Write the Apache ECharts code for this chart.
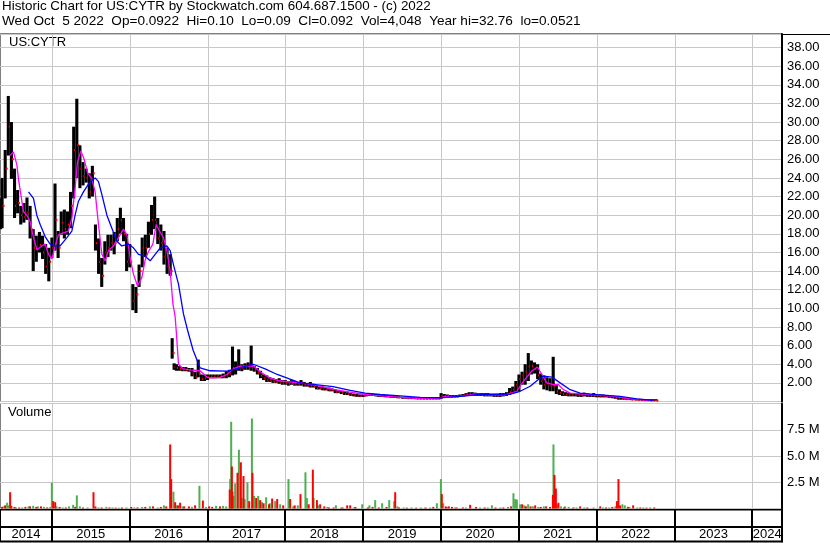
<!DOCTYPE html>
<html><head><meta charset="utf-8">
<script src="https://cdn.jsdelivr.net/npm/echarts@6/dist/echarts.min.js"></script>
<style>html,body{margin:0;padding:0;background:#fff}#c{width:830px;height:543px}</style>
</head><body><div id="c"></div>
<script>
const titleLine1 = 'Historic Chart for US:CYTR by Stockwatch.com 604.687.1500 - (c) 2022';
const titleLine2 = 'Wed Oct  5 2022  Op=0.0922  Hi=0.10  Lo=0.09  Cl=0.092  Vol=4,048  Year hi=32.76  lo=0.0521';
const symbolLabel = 'US:CYTR';
const volumeLabel = 'Volume';
const yearStarts = [2014, 2015, 2016, 2017, 2018, 2019, 2020, 2021, 2022, 2023, 2024];
const yearLabels = ['2014', '2015', '2016', '2017', '2018', '2019', '2020', '2021', '2022', '2023', '2024'];

// price bars: [decimal year, low, high, close]
const bars2014 = [
[2014.34,18.5,21.8,19.5],[2014.36,18.6,24.0,21.0],[2014.40,21.8,27.0,25.0],[2014.44,26.4,32.8,29.5],
[2014.48,23.9,30.0,26.0],[2014.52,19.7,25.0,21.0],[2014.56,20.2,22.7,21.3],[2014.60,19.0,21.0,20.0],
[2014.64,19.2,21.3,19.8],[2014.68,19.5,21.9,20.3],[2014.72,17.5,21.0,18.5],[2014.76,14.0,18.5,16.5],
[2014.80,15.0,17.8,16.3],[2014.84,16.0,18.2,16.8],[2014.88,15.3,17.8,16.0],[2014.92,13.7,16.9,14.5],
[2014.96,12.9,16.5,15.0]
];
const bars2015 = [
[2015.00,15.4,17.6,16.5],[2015.04,16.2,23.4,19.5],[2015.08,15.4,18.3,16.5],[2015.12,17.9,20.4,19.2],
[2015.16,17.5,20.6,18.5],[2015.20,17.9,20.4,19.0],[2015.24,18.6,22.5,21.0],[2015.28,21.8,29.5,27.0],
[2015.32,24.0,32.5,27.5],[2015.36,22.9,27.5,25.0],[2015.40,23.2,25.7,24.2],[2015.44,23.5,25.0,24.0],
[2015.48,21.8,24.5,22.5],[2015.52,22.0,25.3,24.5],[2015.56,16.2,19.0,17.0],[2015.60,13.7,17.5,15.0],
[2015.64,12.3,15.4,13.5],[2015.68,14.7,17.2,16.0],[2015.72,15.5,17.9,16.5],[2015.76,16.2,17.9,17.0],
[2015.80,15.8,18.2,17.0],[2015.84,17.2,19.7,18.5],[2015.88,18.0,20.8,19.5],[2015.92,17.2,19.7,18.0],
[2015.96,14.0,18.0,15.0]
];
const bars2016 = [
[2016.00,14.4,16.9,15.0],[2016.04,9.8,12.6,10.8],[2016.08,9.5,12.3,11.5],[2016.12,12.3,14.7,14.0],
[2016.16,14.4,17.6,16.5],[2016.20,15.5,17.9,16.5],[2016.24,16.5,19.3,18.0],[2016.28,17.9,21.1,19.5],
[2016.32,18.5,22.0,19.5],[2016.36,16.9,19.7,17.5],[2016.40,16.2,19.0,17.0],[2016.44,14.7,18.3,15.5],
[2016.48,13.7,16.5,14.5],[2016.52,13.5,15.8,14.0],[2016.545,4.6,6.8,5.2],[2016.57,3.4,4.1,3.7],
[2016.60,3.3,4.0,3.6],[2016.64,3.3,3.8,3.5],[2016.68,3.25,3.7,3.4],[2016.72,3.25,3.7,3.4],
[2016.76,3.2,3.6,3.3],[2016.80,2.7,3.6,3.0],[2016.84,2.4,3.2,2.6],[2016.88,2.6,4.5,3.0],
[2016.92,2.2,2.9,2.4],[2016.96,2.2,2.9,2.5]
];
const bars2017 = [
[2017.00,2.3,2.9,2.6],[2017.04,2.5,2.9,2.7],[2017.08,2.5,2.9,2.7],[2017.12,2.5,2.9,2.7],
[2017.16,2.5,2.9,2.6],[2017.20,2.5,3.0,2.7],[2017.24,2.5,3.25,2.9],[2017.28,2.6,3.4,3.0],
[2017.32,2.8,5.9,3.6],[2017.36,2.9,4.3,3.5],[2017.40,3.3,5.6,3.6],[2017.44,3.25,4.0,3.6],
[2017.48,3.4,4.1,3.8],[2017.52,3.4,4.2,3.9],[2017.56,3.3,6.0,3.8],[2017.60,3.2,3.8,3.4],
[2017.64,2.9,3.6,3.1],[2017.68,2.5,3.3,2.8],[2017.72,2.3,2.9,2.5],[2017.76,2.1,2.8,2.3],
[2017.80,2.1,2.6,2.3],[2017.84,2.0,2.5,2.2],[2017.88,2.0,2.4,2.1],[2017.92,1.9,2.5,2.1],
[2017.96,1.8,2.3,2.0]
];
const bars2018 = [
[2018.00,1.8,2.3,2.0],[2018.04,1.7,2.2,1.9],[2018.08,1.8,2.3,2.0],[2018.12,1.7,2.2,1.9],
[2018.16,1.7,2.1,1.9],[2018.20,1.7,2.3,2.0],[2018.24,1.6,2.1,1.8],[2018.28,1.6,2.0,1.7],
[2018.32,1.5,2.1,1.7],[2018.36,1.5,1.9,1.6],[2018.40,1.3,1.7,1.4],[2018.44,1.3,1.6,1.4],
[2018.48,1.2,1.6,1.3],[2018.52,1.2,1.5,1.3],[2018.56,1.1,1.5,1.2],[2018.60,1.1,1.4,1.2],
[2018.64,0.9,1.3,1.0],[2018.68,0.9,1.2,1.0],[2018.72,0.8,1.1,0.9],[2018.76,0.7,1.1,0.8],
[2018.80,0.7,1.0,0.8],[2018.84,0.6,0.9,0.7],[2018.88,0.55,0.85,0.65],[2018.92,0.5,0.8,0.6],
[2018.96,0.5,0.75,0.6]
];
const bars2019 = [
[2019.00,0.5,0.8,0.65],[2019.04,0.55,0.85,0.7],[2019.08,0.6,0.9,0.75],[2019.12,0.6,0.85,0.7],
[2019.16,0.55,0.8,0.65],[2019.20,0.5,0.75,0.6],[2019.24,0.5,0.7,0.6],[2019.28,0.45,0.7,0.55],
[2019.32,0.45,0.65,0.55],[2019.36,0.4,0.7,0.5],[2019.40,0.4,0.65,0.5],[2019.44,0.35,0.55,0.45],
[2019.48,0.35,0.5,0.4],[2019.52,0.3,0.5,0.4],[2019.56,0.3,0.45,0.35],[2019.60,0.3,0.45,0.35],
[2019.64,0.3,0.45,0.35],[2019.68,0.25,0.4,0.3],[2019.72,0.25,0.4,0.3],[2019.76,0.25,0.4,0.3],
[2019.80,0.25,0.35,0.3],[2019.84,0.25,0.35,0.3],[2019.88,0.25,0.35,0.3],[2019.92,0.25,0.35,0.3],
[2019.96,0.25,0.35,0.3]
];
const bars2020 = [
[2020.00,0.3,0.9,0.6],[2020.04,0.5,0.8,0.6],[2020.08,0.5,0.75,0.6],[2020.12,0.45,0.7,0.55],
[2020.16,0.45,0.7,0.55],[2020.20,0.45,0.7,0.55],[2020.24,0.5,0.75,0.6],[2020.28,0.55,0.8,0.65],
[2020.32,0.6,0.9,0.75],[2020.36,0.65,1.0,0.8],[2020.40,0.65,1.0,0.8],[2020.44,0.6,0.95,0.75],
[2020.48,0.6,0.9,0.75],[2020.52,0.6,0.9,0.7],[2020.56,0.55,0.9,0.7],[2020.60,0.55,0.9,0.7],
[2020.64,0.55,0.85,0.7],[2020.68,0.5,0.85,0.65],[2020.72,0.5,0.85,0.65],[2020.76,0.5,0.9,0.7],
[2020.80,0.55,0.9,0.7],[2020.84,0.6,1.0,0.8],[2020.88,0.7,1.45,1.0],[2020.92,0.8,1.6,1.3],
[2020.96,1.0,2.2,1.8]
];
const bars2021 = [
[2021.00,1.1,2.9,2.4],[2021.04,1.8,3.2,2.8],[2021.08,1.8,4.0,3.2],[2021.12,2.2,5.2,3.8],
[2021.16,2.9,4.4,3.8],[2021.20,3.0,4.2,3.5],[2021.24,2.4,4.0,2.8],[2021.28,1.8,3.0,2.2],
[2021.32,1.3,2.8,1.8],[2021.36,1.2,2.6,1.9],[2021.40,1.1,2.5,1.7],[2021.44,1.1,4.8,1.6],
[2021.48,0.8,1.8,1.1],[2021.52,0.7,1.3,0.9],[2021.56,0.6,1.1,0.8],[2021.60,0.6,1.0,0.75],
[2021.64,0.55,0.95,0.7],[2021.68,0.55,0.9,0.7],[2021.72,0.55,0.9,0.7],[2021.76,0.5,0.85,0.65],
[2021.80,0.5,0.85,0.65],[2021.84,0.55,0.95,0.7],[2021.88,0.5,0.85,0.65],[2021.92,0.5,0.8,0.6],
[2021.96,0.5,0.9,0.65]
];
const bars2022 = [
[2022.00,0.45,0.8,0.6],[2022.04,0.45,0.75,0.55],[2022.08,0.45,0.75,0.55],[2022.12,0.45,0.7,0.55],
[2022.16,0.4,0.65,0.5],[2022.20,0.35,0.6,0.45],[2022.24,0.3,0.55,0.4],[2022.28,0.2,0.5,0.3],
[2022.32,0.2,0.4,0.3],[2022.36,0.2,0.35,0.25],[2022.40,0.2,0.35,0.25],[2022.44,0.15,0.3,0.2],
[2022.48,0.15,0.3,0.2],[2022.52,0.12,0.25,0.18],[2022.56,0.12,0.22,0.15],[2022.60,0.1,0.2,0.14],
[2022.64,0.1,0.18,0.13],[2022.68,0.09,0.15,0.11],[2022.72,0.09,0.12,0.1],[2022.76,0.09,0.10,0.092]
];

// moving averages: [decimal year, value]
const maFast = [
[2014.464,26.4],[2014.507,26.8],[2014.551,25.4],[2014.571,23.9],[2014.602,22.2],[2014.635,20.4],
[2014.679,20.0],[2014.721,19.3],[2014.764,17.6],[2014.807,16.3],[2014.872,16.7],[2014.914,16.9],
[2014.957,15.8],[2015.000,15.3],[2015.043,16.7],[2015.085,17.9],[2015.149,18.1],[2015.213,18.3],
[2015.257,19.7],[2015.299,22.9],[2015.329,25.7],[2015.373,26.9],[2015.415,26.0],[2015.458,24.6],
[2015.514,23.9],[2015.556,22.5],[2015.599,19.0],[2015.643,15.8],[2015.685,15.1],[2015.727,16.2],
[2015.792,16.7],[2015.856,17.6],[2015.920,18.5],[2015.964,17.9],[2016.006,15.4],[2016.048,13.7],
[2016.100,12.4],[2016.156,13.3],[2016.199,15.2],[2016.241,16.1],[2016.298,16.9],[2016.340,19.0],
[2016.383,18.3],[2016.434,17.6],[2016.478,16.2],[2016.520,14.0],[2016.555,10.5],[2016.584,9.1],
[2016.597,7.7],[2016.627,4.0],[2016.687,3.5],[2016.777,3.4],[2016.905,3.3],[2016.995,2.6],
[2017.072,2.55],[2017.162,2.6],[2017.252,2.9],[2017.329,3.5],[2017.419,3.8],[2017.509,3.8],
[2017.586,3.8],[2017.676,3.2],[2017.805,2.5],[2017.933,2.2],[2018.190,2.0],[2018.357,1.8],
[2018.614,1.3],[2018.833,1.0],[2019.025,0.75],[2019.218,0.62],[2019.475,0.45],[2019.732,0.32],
[2019.963,0.3],[2020.053,0.55],[2020.246,0.58],[2020.438,0.78],[2020.631,0.72],[2020.824,0.72],
[2020.974,1.1],[2021.059,2.18],[2021.167,3.27],[2021.239,3.7],[2021.295,2.9],[2021.359,2.0],
[2021.444,1.8],[2021.508,1.8],[2021.573,1.27],[2021.659,0.9],[2021.916,0.73],[2022.215,0.55],
[2022.430,0.29],[2022.729,0.1]
];
const maSlow = [
[2014.700,22.5],[2014.764,21.8],[2014.807,20.0],[2014.850,19.0],[2014.914,17.7],[2014.978,16.9],
[2015.043,16.7],[2015.107,16.7],[2015.193,17.6],[2015.257,18.3],[2015.299,20.0],[2015.342,21.5],
[2015.406,22.5],[2015.492,23.6],[2015.556,24.0],[2015.599,23.6],[2015.643,22.2],[2015.707,20.0],
[2015.771,18.6],[2015.835,17.2],[2015.899,16.7],[2015.984,16.9],[2016.048,16.5],[2016.113,15.8],
[2016.199,15.6],[2016.263,15.1],[2016.327,15.8],[2016.392,16.5],[2016.478,16.7],[2016.520,16.2],
[2016.562,14.7],[2016.627,12.6],[2016.691,9.4],[2016.742,7.7],[2016.815,5.5],[2016.905,3.6],
[2017.034,3.3],[2017.252,3.25],[2017.419,3.6],[2017.586,4.0],[2017.740,3.5],[2017.895,2.9],
[2018.190,2.0],[2018.614,1.6],[2018.833,1.2],[2019.025,0.9],[2019.218,0.75],[2019.475,0.6],
[2019.732,0.45],[2019.989,0.4],[2020.246,0.55],[2020.503,0.75],[2020.888,0.8],[2021.016,1.1],
[2021.145,1.64],[2021.251,2.36],[2021.316,2.73],[2021.424,2.62],[2021.530,2.0],[2021.659,1.27],
[2021.787,0.9],[2022.002,0.73],[2022.301,0.55],[2022.516,0.29],[2022.729,0.11]
];

// volume in millions: [decimal year, volume]
const volUp = [
[2014.38,0.2],[2014.426,0.55],[2014.44,0.3],[2014.54,0.1],[2014.62,0.1],[2014.70,0.2],[2014.76,0.25],[2014.82,0.2],[2014.90,0.15],[2014.98,0.15],
[2015.000,2.47],[2015.06,0.2],[2015.14,0.1],[2015.22,0.2],[2015.274,0.35],[2015.321,1.25],[2015.36,0.2],[2015.46,0.1],[2015.60,0.1],[2015.70,0.15],[2015.78,0.1],[2015.86,0.08],[2015.96,0.1],
[2016.06,0.1],[2016.16,0.15],[2016.26,0.2],[2016.36,0.1],[2016.44,0.3],[2016.562,1.6],[2016.60,0.3],[2016.68,0.2],[2016.80,0.15],[2016.896,2.16],[2016.98,0.15],
[2017.11,0.25],[2017.20,0.25],[2017.24,0.2],[2017.291,2.8],[2017.304,8.26],[2017.34,1.2],[2017.355,2.4],[2017.403,5.6],[2017.44,1.0],[2017.477,0.9],[2017.513,2.5],[2017.570,8.57],[2017.599,1.2],[2017.651,1.2],[2017.70,0.6],[2017.753,1.07],[2017.80,0.5],[2017.869,0.7],[2017.933,0.4],
[2018.040,2.8],[2018.10,0.2],[2018.16,0.3],[2018.258,3.45],[2018.276,1.0],[2018.363,1.0],[2018.42,0.3],[2018.54,0.15],[2018.649,0.3],[2018.74,0.1],[2018.88,0.1],[2018.987,0.4],
[2019.08,0.3],[2019.154,0.8],[2019.243,0.5],[2019.334,0.8],[2019.398,0.7],[2019.44,0.2],[2019.52,0.1],[2019.62,0.1],[2019.74,0.1],[2019.86,0.1],[2019.946,0.5],
[2019.998,2.8],[2020.027,0.5],[2020.08,0.15],[2020.18,0.1],[2020.32,0.1],[2020.50,0.1],[2020.60,0.1],[2020.653,0.3],[2020.76,0.1],[2020.86,0.15],[2020.930,1.46],[2020.952,0.9],[2020.974,0.85],
[2021.016,0.4],[2021.07,0.3],[2021.119,0.4],[2021.18,0.2],[2021.25,0.15],[2021.32,0.2],[2021.444,6.1],[2021.49,0.4],[2021.54,0.2],[2021.594,0.2],[2021.64,0.15],[2021.74,0.1],[2021.84,0.1],[2021.96,0.1],
[2022.08,0.1],[2022.16,0.1],[2022.24,0.2],[2022.33,0.4],[2022.361,0.3],[2022.42,0.15],[2022.52,0.1],[2022.60,0.1],[2022.686,0.1]
];
const volDown = [
[2014.36,0.15],[2014.40,0.3],[2014.464,1.55],[2014.48,0.25],[2014.52,0.15],[2014.58,0.1],[2014.66,0.15],[2014.72,0.2],[2014.80,0.15],[2014.86,0.2],[2014.94,0.1],
[2015.017,0.7],[2015.043,0.6],[2015.10,0.15],[2015.18,0.1],[2015.30,0.15],[2015.40,0.1],[2015.535,1.55],[2015.56,0.2],[2015.64,0.1],[2015.74,0.1],[2015.82,0.08],[2015.90,0.1],
[2016.02,0.15],[2016.10,0.1],[2016.20,0.15],[2016.30,0.2],[2016.40,0.15],[2016.47,0.2],[2016.52,6.1],[2016.533,2.8],[2016.584,0.6],[2016.62,0.3],[2016.648,0.55],[2016.70,0.2],[2016.76,0.2],[2016.84,0.3],[2016.94,0.76],
[2017.02,0.2],[2017.06,0.15],[2017.16,0.2],[2017.285,1.8],[2017.313,4.0],[2017.32,1.6],[2017.385,3.4],[2017.428,4.4],[2017.462,3.1],[2017.535,0.7],[2017.577,3.4],[2017.625,1.0],[2017.676,0.8],[2017.72,0.5],[2017.79,0.4],[2017.83,0.95],[2017.895,0.9],[2017.972,0.3],
[2018.061,0.9],[2018.12,0.3],[2018.194,1.37],[2018.30,0.4],[2018.353,3.7],[2018.405,0.8],[2018.447,0.4],[2018.50,0.2],[2018.56,0.1],[2018.62,0.1],[2018.72,0.1],[2018.794,0.3],[2018.833,0.3],[2018.90,0.15],
[2019.06,0.1],[2019.12,0.15],[2019.20,0.1],[2019.30,0.15],[2019.411,1.55],[2019.46,0.1],[2019.56,0.08],[2019.68,0.08],[2019.80,0.1],[2019.90,0.15],
[2020.010,1.37],[2020.06,0.2],[2020.10,0.2],[2020.14,0.15],[2020.20,0.1],[2020.28,0.1],[2020.374,0.35],[2020.45,0.15],[2020.56,0.1],[2020.70,0.1],[2020.80,0.1],[2020.90,0.2],
[2021.042,0.4],[2021.09,0.2],[2021.15,0.2],[2021.209,0.3],[2021.28,0.15],[2021.35,0.2],[2021.40,0.15],[2021.437,1.3],[2021.457,3.2],[2021.475,1.9],[2021.508,0.55],[2021.58,0.1],[2021.70,0.1],[2021.787,0.2],[2021.88,0.1],
[2022.045,0.2],[2022.12,0.1],[2022.20,0.15],[2022.259,0.7],[2022.279,2.8],[2022.30,0.3],[2022.40,0.15],[2022.468,0.3],[2022.56,0.1],[2022.64,0.08],[2022.74,0.1]
];

const priceBars = [].concat(bars2014, bars2015, bars2016, bars2017, bars2018, bars2019, bars2020, bars2021, bars2022);

const FAMILY = '"Liberation Sans", Arial, sans-serif';
const FONT = '13px ' + FAMILY;
const X_MIN = 2014.334, X_MAX = 2024.38;
const GRID_LEFT = 0, GRID_RIGHT = 48;

function xAxisFor(gridIndex) {
  return {
    type: 'value', gridIndex: gridIndex, min: X_MIN, max: X_MAX,
    axisLine: { show: false }, axisTick: { show: false }, axisLabel: { show: false }, splitLine: { show: false }
  };
}

function yearLineRenderer(color, width) {
  return function (params, api) {
    const cs = params.coordSys;
    const p = api.coord([api.value(0), 0]);
    if (p[0] <= cs.x + 1 || p[0] >= cs.x + cs.width - 1) return null;
    const x = width % 2 ? Math.round(p[0]) + 0.5 : Math.round(p[0]);
    return { type: 'line', shape: { x1: x, y1: cs.y, x2: x, y2: cs.y + cs.height }, style: { stroke: color, lineWidth: width } };
  };
}
function renderPriceBar(params, api) {
  const t = api.value(0);
  const pLo = api.coord([t, api.value(1)]);
  const pHi = api.coord([t, api.value(2)]);
  const pCl = api.coord([t, api.value(3)]);
  const top = Math.min(pHi[1], pLo[1] - 1.5);
  return { type: 'group', children: [
    { type: 'rect', shape: { x: pLo[0] - 1.5, y: top, width: 3.1, height: pLo[1] - top }, style: { fill: '#000' } },
    { type: 'rect', shape: { x: pCl[0] + 0.5, y: pCl[1] - 1, width: 2, height: 2 }, style: { fill: '#ff0000' } }
  ]};
}
function volRenderer(color) {
  return function (params, api) {
    const p = api.coord([api.value(0), api.value(1)]);
    const b = api.coord([api.value(0), 0]);
    return { type: 'rect', shape: { x: p[0] - 1, y: p[1], width: 2, height: b[1] - p[1] }, style: { fill: color } };
  };
}
function renderYearLabel(params, api) {
  const y0 = api.value(0);
  const cs = params.coordSys;
  const a = api.coord([y0, 0.5]);
  const b = api.coord([y0 + 1, 0.5]);
  const l = Math.max(a[0], cs.x);
  const r = Math.min(b[0], cs.x + cs.width);
  return { type: 'text', x: (l + r) / 2, y: a[1] + 0.5,
    style: { text: yearLabels[params.dataIndex], align: 'center', verticalAlign: 'middle', font: FONT, fill: '#000' } };
}
const yearData = yearStarts.map(y => [y, 0.5]);

const chart = echarts.init(document.getElementById('c'), null, { renderer: 'canvas' });
chart.setOption({
  animation: false,
  backgroundColor: '#fff',
  grid: [
    { left: GRID_LEFT, right: GRID_RIGHT, top: 34, height: 367.5, show: true, borderColor: '#000', borderWidth: 1, backgroundColor: 'transparent' },
    { left: GRID_LEFT, right: GRID_RIGHT, top: 403.5, height: 105, show: true, borderColor: '#000', borderWidth: 1, backgroundColor: 'transparent' },
    { left: GRID_LEFT, right: GRID_RIGHT, top: 509.5, height: 17.5, show: true, borderColor: '#000', borderWidth: 2, backgroundColor: 'transparent' },
    { left: GRID_LEFT, right: GRID_RIGHT, top: 527, height: 14.5, show: true, borderColor: '#000', borderWidth: 2, backgroundColor: 'transparent' }
  ],
  xAxis: [ xAxisFor(0), xAxisFor(1), xAxisFor(2), xAxisFor(3) ],
  yAxis: [
    { type: 'value', gridIndex: 0, position: 'right', min: 0, max: 39.45, interval: 2,
      axisLine: { show: true, lineStyle: { color: '#000', width: 2 } }, axisTick: { show: false },
      axisLabel: { margin: 5, color: '#000', fontFamily: FAMILY, fontSize: 13,
        formatter: v => (v >= 2 && v <= 38) ? v.toFixed(2) : '' },
      splitLine: { show: true, lineStyle: { color: '#c8c8c8', width: 1 } } },
    { type: 'value', gridIndex: 1, position: 'right', min: 0, max: 10, interval: 2.5,
      axisLine: { show: true, lineStyle: { color: '#000', width: 2 } }, axisTick: { show: false },
      axisLabel: { margin: 5, color: '#000', fontFamily: FAMILY, fontSize: 13,
        formatter: v => (v > 0 && v < 10) ? v.toFixed(1) + ' M' : '' },
      splitLine: { show: true, lineStyle: { color: '#c8c8c8', width: 1 } } },
    { type: 'value', gridIndex: 2, position: 'right', min: 0, max: 1,
      axisLine: { show: true, lineStyle: { color: '#000', width: 2 } }, axisTick: { show: false }, axisLabel: { show: false }, splitLine: { show: false } },
    { type: 'value', gridIndex: 3, position: 'right', min: 0, max: 1,
      axisLine: { show: true, lineStyle: { color: '#000', width: 2 } }, axisTick: { show: false }, axisLabel: { show: false }, splitLine: { show: false } }
  ],
  graphic: [
    { type: 'text', left: 2, top: 0, style: { text: titleLine1, font: '13.4px ' + FAMILY, fill: '#000' } },
    { type: 'text', left: 2, top: 14, style: { text: titleLine2, font: '13.6px ' + FAMILY, fill: '#000' } },
    { type: 'line', shape: { x1: 782, y1: 34.5, x2: 830, y2: 34.5 }, style: { stroke: '#000', lineWidth: 1 } },
    { type: 'text', left: 9, top: 36, style: { text: symbolLabel, font: FONT, fill: '#000' } },
    { type: 'text', left: 8, top: 406, style: { text: volumeLabel, font: FONT, fill: '#000' } }
  ],
  series: [
    { type: 'custom', name: 'priceYears', xAxisIndex: 0, yAxisIndex: 0, data: yearData, renderItem: yearLineRenderer('#c8c8c8', 1), z: 1, silent: true },
    { type: 'custom', name: 'volYears', xAxisIndex: 1, yAxisIndex: 1, data: yearData, renderItem: yearLineRenderer('#c8c8c8', 1), z: 1, silent: true },
    { type: 'custom', name: 'bandYears1', xAxisIndex: 2, yAxisIndex: 2, data: yearData, renderItem: yearLineRenderer('#000', 2), z: 1, silent: true },
    { type: 'custom', name: 'bandYears2', xAxisIndex: 3, yAxisIndex: 3, data: yearData, renderItem: yearLineRenderer('#000', 2), z: 1, silent: true },
    { type: 'custom', name: 'price', xAxisIndex: 0, yAxisIndex: 0, data: priceBars, renderItem: renderPriceBar,
      encode: { x: 0, y: [1, 2, 3] }, z: 2 },
    { type: 'line', name: 'maFast', xAxisIndex: 0, yAxisIndex: 0, data: maFast, showSymbol: false,
      lineStyle: { color: '#ff00ff', width: 1.3 }, z: 4 },
    { type: 'line', name: 'maSlow', xAxisIndex: 0, yAxisIndex: 0, data: maSlow, showSymbol: false,
      lineStyle: { color: '#0000ff', width: 1.3 }, z: 5 },
    { type: 'custom', name: 'volUp', xAxisIndex: 1, yAxisIndex: 1, data: volUp, renderItem: volRenderer('#4caf50'), z: 2 },
    { type: 'custom', name: 'volDown', xAxisIndex: 1, yAxisIndex: 1, data: volDown, renderItem: volRenderer('#ff0000'), z: 3 },
    { type: 'custom', name: 'years', xAxisIndex: 3, yAxisIndex: 3, data: yearData, renderItem: renderYearLabel, z: 5 }
  ]
});
</script>
</body></html>
